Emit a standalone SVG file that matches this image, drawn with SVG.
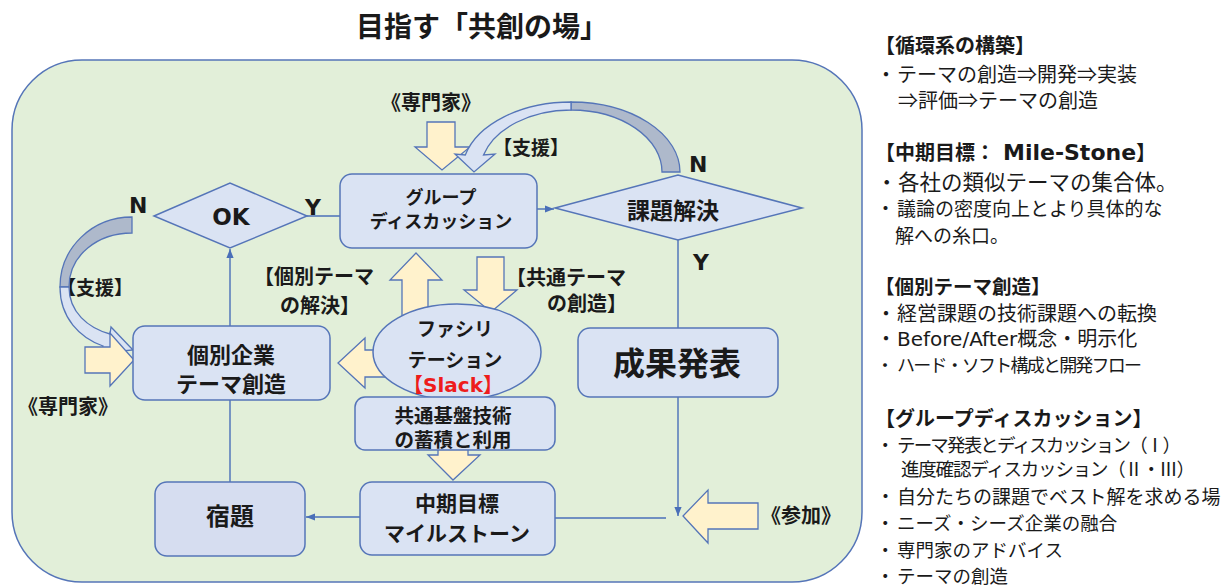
<svg xmlns="http://www.w3.org/2000/svg" width="1226" height="587" viewBox="0 0 1226 587">
<style>
.bg{fill:#e2efd9;stroke:#5575b8;stroke-width:1.5}
.box{fill:#dae3f3;stroke:#5575b8;stroke-width:1.5}
.box2{fill:#d6ddf0;stroke:#5575b8;stroke-width:1.5}
.blk{fill:#fff2cc;stroke:#5575b8;stroke-width:1.3}
.cdark{fill:#aeb9cb;stroke:#5575b8;stroke-width:1.3}
.clight{fill:#dae3f3;stroke:#5575b8;stroke-width:1.3}
.ln{stroke:#4a6fb8;stroke-width:1.4;fill:none}
text{font-family:"Noto Sans CJK JP","Noto Sans",sans-serif;fill:#1a1a1a}
.b{font-weight:bold}
.c{text-anchor:middle}
.lat{font-family:"DejaVu Sans","Noto Sans CJK JP",sans-serif}
.red{fill:#ee1c1c}
</style>
<defs>
<marker id="ah" viewBox="0 0 10 10" refX="10" refY="5" markerWidth="9" markerHeight="9" markerUnits="userSpaceOnUse" orient="auto">
<path d="M0,1 L10,5 L0,9 z" fill="#4a6fb8"/>
</marker>
</defs>

<rect class="bg" x="12" y="60" width="850" height="522" rx="70" ry="70"/>
<text class="b c" x="482" y="37" font-size="28">目指す「共創の場」</text>

<g id="connectors">
<path class="ln" d="M307,216 H340"/>
<path class="ln" d="M537,209 H554" marker-end="url(#ah)"/>
<path class="ln" d="M678,240 V328"/>
<path class="ln" d="M678,397 V516" marker-end="url(#ah)"/>
<path class="ln" d="M666,518 H555"/>
<path class="ln" d="M360,517 H306" marker-end="url(#ah)"/>
<path class="ln" d="M230,482 V400"/>
<path class="ln" d="M230,326 V249" marker-end="url(#ah)"/>
</g>

<g id="block-arrows">
<polygon class="blk" points="402,322 402,280 390,280 416,253 442,280 428,280 428,322"/>
<polygon class="blk" points="477,257 504,257 504,290 517,290 491,312 464,290 477,290"/>
<polygon class="blk" points="388,350 365,350 365,338 338,363 365,388 365,377 388,377"/>
<polygon class="blk" points="438,445 468,445 468,455 480,455 453,480 428,455 438,455"/>
<polygon class="blk" points="758,503 708,503 708,490 683,516 708,543 708,529 758,529"/>
</g>

<g id="expert-top">
<polygon class="blk" points="427,122 455,122 455,147 470,147 442,170 415,147 427,147"/>
<text class="b c" x="431" y="110" font-size="20">《専門家》</text>
</g>

<g id="support-top">
<path class="cdark" d="M680,172 A109,70 0 0 0 571,102 L571,110 A91,62 0 0 1 662,172 Z"/>
<path class="clight" d="M571,102 A109,70 0 0 0 465.3,155 L455,154 L474,172 L495,154 L483.5,155 A91,62 0 0 1 571,110 Z"/>
<text class="b c" x="531" y="155" font-size="19">【支援】</text>
</g>

<g id="support-left">
<text class="b c" x="95" y="295" font-size="19">【支援】</text>
<path class="cdark" d="M132,217 C92,217 60,248 60,287 L69,287 C69,255 98,233 132,233 Z"/>
<path class="clight" d="M60,287 C60,318 80,338 103,346 L101,353 L133,350 L111,327 L110,334 C88,328 69,312 69,287 Z"/>
</g>

<g id="expert-left">
<polygon class="blk" points="85,347 110,347 110,333 134,360 110,386 110,373 85,373"/>
<text class="b c" x="68" y="414" font-size="20">《専門家》</text>
</g>

<g id="join">
<text class="b c" x="801" y="523" font-size="20">《参加》</text>
</g>

<g id="ok">
<polygon class="box" points="154,216 230,183 307,216 230,248"/>
<text class="b c lat" x="231" y="225" font-size="23">OK</text>
<text class="b lat" x="129" y="213" font-size="22">N</text>
<text class="b lat" x="305" y="215" font-size="22">Y</text>
</g>

<g id="group-discussion">
<rect class="box" x="340" y="174" width="197" height="74" rx="12"/>
<text class="b c" x="441" y="204" font-size="18">グループ</text>
<text class="b c" x="441" y="228" font-size="18">ディスカッション</text>
</g>

<g id="solve">
<polygon class="box" points="555,208 678,175 802,208 678,240"/>
<text class="b c" x="673" y="219" font-size="23">課題解決</text>
<text class="b lat" x="689" y="172" font-size="22">N</text>
<text class="b lat" x="693" y="270" font-size="22">Y</text>
</g>

<g id="results">
<rect class="box" x="578" y="328" width="200" height="69" rx="12"/>
<text class="b c" x="677" y="375" font-size="32">成果発表</text>
</g>

<g id="company-theme">
<rect class="box" x="133" y="326" width="197" height="74" rx="12"/>
<text class="b c" x="231" y="363" font-size="22">個別企業</text>
<text class="b c" x="231" y="392" font-size="22">テーマ創造</text>
</g>

<g id="facilitation">
<ellipse class="box" cx="457" cy="352" rx="84" ry="48"/>
<text class="b c" x="455" y="336" font-size="19">ファシリ</text>
<text class="b c" x="455" y="367" font-size="19">テーション</text>
<text class="b c red" x="453" y="392" font-size="20">【<tspan class="lat">Slack</tspan>】</text>
</g>

<g id="common-tech">
<rect class="box" x="355" y="397" width="200" height="53" rx="10"/>
<text class="b c" x="453" y="423" font-size="19.5">共通基盤技術</text>
<text class="b c" x="453" y="447" font-size="19.5">の蓄積と利用</text>
</g>

<g id="milestone">
<rect class="box" x="360" y="482" width="195" height="73" rx="12"/>
<text class="b c" x="457" y="511" font-size="21">中期目標</text>
<text class="b c" x="457" y="541" font-size="21">マイルストーン</text>
</g>

<g id="homework">
<rect class="box2" x="155" y="482" width="150" height="74" rx="12"/>
<text class="b c" x="230" y="525" font-size="24">宿題</text>
</g>

<g id="labels">
<text class="b" x="254" y="284" font-size="20">【個別テーマ</text>
<text class="b" x="280" y="313" font-size="20">の解決】</text>
<text class="b" x="506" y="285" font-size="20">【共通テーマ</text>
<text class="b" x="547" y="311" font-size="20">の創造】</text>
</g>

<g id="notes">
<text class="b" x="875" y="53" font-size="20">【循環系の構築】</text>
<text x="876" y="82" font-size="20">・<tspan x="897">テーマの創造⇒開発⇒実装</tspan></text>
<text x="898" y="108" font-size="20">⇒評価⇒テーマの創造</text>

<text class="b" x="875" y="160" font-size="20">【中期目標：<tspan class="lat" x="1003" font-size="22">Mile-Stone</tspan>】</text>
<text x="876" y="190" font-size="21.5">・<tspan x="898">各社の類似テーマの集合体。</tspan></text>
<text x="876" y="216" font-size="19">・<tspan x="897">議論の密度向上とより具体的な</tspan></text>
<text x="895" y="243" font-size="19">解への糸口。</text>

<text class="b" x="875" y="294" font-size="19.5">【個別テーマ創造】</text>
<text x="876" y="321" font-size="20">・<tspan x="897">経営課題の技術課題への転換</tspan></text>
<text x="876" y="346" font-size="20">・<tspan x="897" class="lat">Before/After</tspan><tspan>概念・明示化</tspan></text>
<text x="876" y="372" font-size="18">・<tspan x="897" textLength="245">ハード・ソフト構成と開発フロー</tspan></text>

<text class="b" x="875" y="426" font-size="20">【グループディスカッション】</text>
<text x="876" y="452" font-size="18.5">・<tspan x="897" textLength="284">テーマ発表とディスカッション（Ⅰ）</tspan></text>
<text x="901" y="476" font-size="18.5" textLength="294">進度確認ディスカッション（Ⅱ・Ⅲ）</text>
<text x="876" y="504" font-size="19">・<tspan x="897">自分たちの課題でベスト解を求める場</tspan></text>
<text x="876" y="530" font-size="18.5">・<tspan x="897">ニーズ・シーズ企業の融合</tspan></text>
<text x="876" y="557" font-size="18.5">・<tspan x="897">専門家のアドバイス</tspan></text>
<text x="876" y="583" font-size="18.5">・<tspan x="897">テーマの創造</tspan></text>
</g>
</svg>
